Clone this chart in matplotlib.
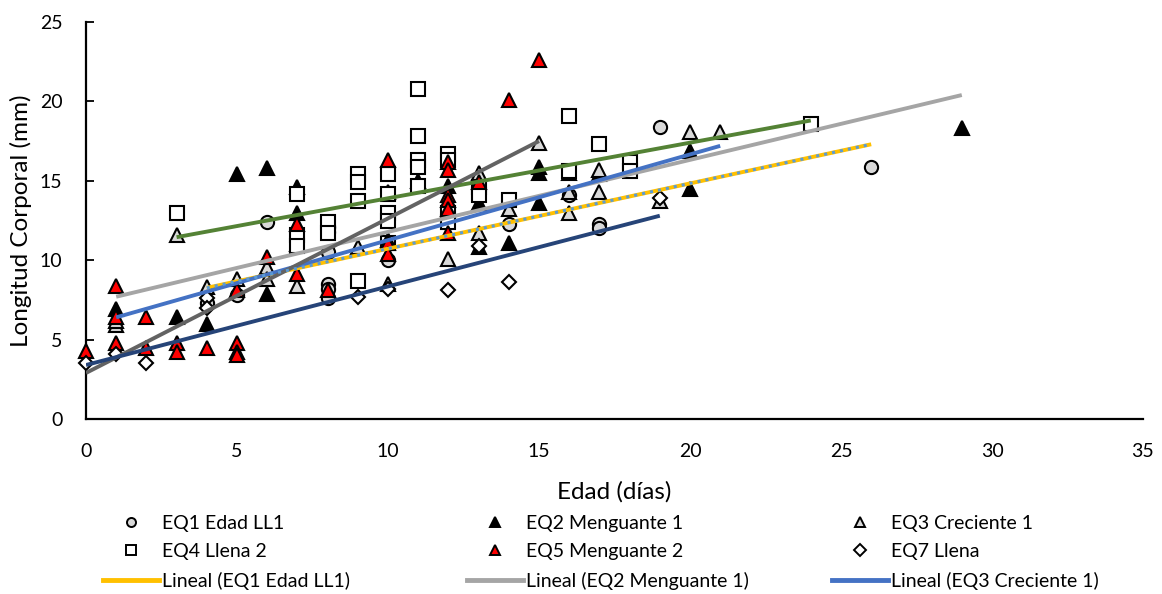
import matplotlib
matplotlib.use("Agg")
import matplotlib.pyplot as plt
from matplotlib.lines import Line2D

plt.rcParams['font.family'] = ['Lato', 'DejaVu Sans']

# ---- data ----
eq1_x = [4, 5, 6, 8, 8, 8, 8, 8, 8, 10, 14, 16, 17, 17, 19, 26]
eq1_y = [7.3, 7.8, 12.4, 12.1, 11.8, 10.5, 8.5, 8.2, 7.6, 10.0, 12.3, 14.1, 12.3, 12.0, 18.4, 15.9]

eq2_x = [1, 3, 4, 5, 6, 6, 7, 7, 11, 12, 13, 13, 14, 15, 15, 15, 17, 20, 20, 29]
eq2_y = [6.9, 6.4, 6.0, 15.4, 15.8, 7.9, 14.6, 13.0, 15.0, 14.7, 13.6, 10.8, 11.1, 15.9, 15.5, 13.6, 15.4, 16.9, 14.5, 18.3]

eq3_x = [1, 1, 3, 4, 5, 6, 6, 7, 7, 9, 10, 10, 12, 13, 13, 14, 15, 16, 16, 16, 17, 17, 19, 20, 21]
eq3_y = [5.9, 6.2, 11.6, 8.3, 8.8, 9.6, 8.8, 11.0, 8.4, 10.8, 14.3, 8.5, 10.1, 15.5, 11.7, 13.2, 17.4, 15.5, 14.3, 13.0, 15.7, 14.3, 13.7, 18.1, 18.1]

eq4_x = [3, 7, 7, 7, 8, 8, 9, 9, 9, 9, 10, 10, 10, 10, 10, 11, 11, 11, 11, 11, 12, 12, 12, 12, 13, 13, 14, 16, 16, 17, 18, 18, 24]
eq4_y = [13.0, 14.2, 11.6, 10.9, 12.4, 11.7, 15.4, 14.9, 13.7, 8.7, 15.4, 14.2, 13.0, 12.5, 11.1, 20.8, 17.8, 16.3, 15.9, 14.7, 16.7, 16.3, 13.0, 12.4, 14.6, 14.1, 13.8, 19.1, 15.6, 17.3, 16.2, 15.6, 18.6]

eq5_x = [0, 1, 1, 1, 2, 2, 3, 3, 4, 5, 5, 5, 5, 6, 7, 7, 8, 10, 10, 10, 10, 12, 12, 12, 12, 12, 12, 13, 14, 15]
eq5_y = [4.3, 8.4, 6.4, 4.8, 6.4, 4.5, 4.8, 4.2, 4.5, 8.1, 4.8, 4.2, 4.0, 10.2, 12.3, 9.1, 8.1, 16.3, 11.3, 11.1, 10.4, 16.2, 15.7, 14.1, 13.8, 13.2, 11.7, 14.9, 20.1, 22.6]

eq7_x = [0, 1, 2, 4, 4, 9, 10, 12, 13, 14, 19]
eq7_y = [3.5, 4.1, 3.5, 7.6, 7.0, 7.7, 8.2, 8.1, 10.9, 8.6, 13.9]

# linear trend lines (end points)
trend_names = ["EQ1", "EQ2", "EQ3", "EQ4", "EQ5", "EQ7", "EQ1b"]
trend_x0 = [4, 1, 1, 3, 0, 0, 4]
trend_x1 = [26, 29, 21, 24, 15, 19, 26]
trend_y0 = [8.26, 7.7, 6.4, 11.45, 2.9, 3.4, 8.26]
trend_y1 = [17.3, 20.4, 17.2, 18.8, 17.5, 12.8, 17.3]

series_labels = ["EQ1 Edad LL1", "EQ2 Menguante 1", "EQ3 Creciente 1",
                 "EQ4 Llena 2", "EQ5 Menguante 2", "EQ7 Llena"]
trend_labels = ["Lineal (EQ1 Edad LL1)", "Lineal (EQ2 Menguante 1)", "Lineal (EQ3 Creciente 1)"]

# ---- figure ----
fig = plt.figure(figsize=(11.62, 5.94), dpi=100)
ax = fig.add_axes([86 / 1162, 1 - 419 / 594, (1143 - 86) / 1162, (419 - 22) / 594])

ms = 9.5
mew = 1.5
light = "#D9D9D9"
styles = [
    dict(marker="o", mfc=light, mec="black"),
    dict(marker="^", mfc="black", mec="black"),
    dict(marker="^", mfc=light, mec="black"),
    dict(marker="s", mfc="white", mec="black"),
    dict(marker="^", mfc="#FF0000", mec="black"),
    dict(marker="D", mfc="white", mec="black"),
]
data = [(eq1_x, eq1_y), (eq2_x, eq2_y), (eq3_x, eq3_y),
        (eq4_x, eq4_y), (eq5_x, eq5_y), (eq7_x, eq7_y)]
sizes = [ms, ms, ms, ms, ms, ms * 0.8]
for (xs, ys), st, s in zip(data, styles, sizes):
    ax.plot(xs, ys, linestyle="none", ms=s, mew=mew, zorder=3, clip_on=False, **st)

trend_colors = ["#FFC000", "#A5A5A5", "#4472C4", "#548235", "#636363", "#264478", "#5B9BD5"]
for i in range(len(trend_names)):
    ls = ":" if trend_names[i] == "EQ1b" else "-"
    lw = 2.2 if trend_names[i] == "EQ1b" else 2.8
    ax.plot([trend_x0[i], trend_x1[i]], [trend_y0[i], trend_y1[i]],
            color=trend_colors[i], lw=lw, ls=ls, zorder=4,
            solid_capstyle="butt")

ax.set_xlim(0, 35)
ax.set_ylim(0, 25)
ax.set_xticks(range(0, 36, 5))
ax.set_yticks(range(0, 26, 5))
for s in ["top", "right"]:
    ax.spines[s].set_visible(False)
for s in ["left", "bottom"]:
    ax.spines[s].set_linewidth(1.6)
    ax.spines[s].set_color("black")
ax.tick_params(axis="x", length=0, labelsize=14, pad=17)
ax.tick_params(axis="y", direction="in", length=6, width=1.3, labelsize=14, pad=17)
ax.set_xlabel("Edad (días)", fontsize=17.5)
ax.set_ylabel("Longitud Corporal (mm)", fontsize=17.5)
ax.xaxis.set_label_coords(0.5, (419 - 481) / 397)
ax.yaxis.set_label_coords((32 - 86) / 1057, 0.5)

# ---- legend: three columns placed individually ----
def mk(i):
    st = styles[i]
    return Line2D([], [], linestyle="none", ms=6.5, mew=1.4, **st)

def ln(i):
    return Line2D([], [], color=trend_colors[i], lw=3.5)

cols = [
    ([mk(0), mk(3), ln(0)], [series_labels[0], series_labels[3], trend_labels[0]], 103),
    ([mk(1), mk(4), ln(1)], [series_labels[1], series_labels[4], trend_labels[1]], 467),
    ([mk(2), mk(5), ln(2)], [series_labels[2], series_labels[5], trend_labels[2]], 832),
]
for handles, labels, xpx in cols:
    fig.legend(handles, labels, loc="upper left",
               bbox_to_anchor=(xpx / 1162, 1 - 515 / 594),
               frameon=False, fontsize=14, handlelength=2.86,
               handletextpad=0.15, labelspacing=0.58, borderpad=0,
               borderaxespad=0)

fig.savefig("out.png", dpi=100)
